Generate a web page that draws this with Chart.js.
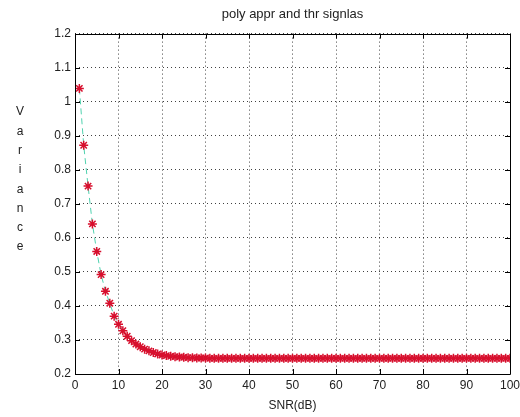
<!DOCTYPE html>
<html>
<head>
<meta charset="utf-8">
<script src="https://cdn.jsdelivr.net/npm/chart.js@4"></script>
<style>
    html, body { margin: 0; padding: 0; background: #fff; }
    #wrap { width: 520px; height: 417px; }
</style>
</head>
<body>
<div id="wrap"><canvas id="myChart" width="520" height="417"></canvas></div>
<script>
// SNR values (dB) on the x axis
const snr = [
    1, 2, 3, 4, 5, 6, 7, 8, 9, 10,
    11, 12, 13, 14, 15, 16, 17, 18, 19, 20,
    21, 22, 23, 24, 25, 26, 27, 28, 29, 30,
    31, 32, 33, 34, 35, 36, 37, 38, 39, 40,
    41, 42, 43, 44, 45, 46, 47, 48, 49, 50,
    51, 52, 53, 54, 55, 56, 57, 58, 59, 60,
    61, 62, 63, 64, 65, 66, 67, 68, 69, 70,
    71, 72, 73, 74, 75, 76, 77, 78, 79, 80,
    81, 82, 83, 84, 85, 86, 87, 88, 89, 90,
    91, 92, 93, 94, 95, 96, 97, 98, 99, 100
];

// variance
const variance = [
    1.039, 0.872, 0.752, 0.641, 0.560, 0.492, 0.443, 0.408, 0.370, 0.346,
    0.327, 0.311, 0.298, 0.288, 0.280, 0.273, 0.268, 0.263, 0.259, 0.256,
    0.254, 0.252, 0.251, 0.250, 0.249, 0.248, 0.248, 0.247, 0.247, 0.247,
    0.246, 0.246, 0.246, 0.246, 0.246, 0.246, 0.246, 0.246, 0.246, 0.246,
    0.246, 0.246, 0.246, 0.246, 0.246, 0.246, 0.246, 0.246, 0.246, 0.246,
    0.246, 0.246, 0.246, 0.246, 0.246, 0.246, 0.246, 0.246, 0.246, 0.246,
    0.246, 0.246, 0.246, 0.246, 0.246, 0.246, 0.246, 0.246, 0.246, 0.246,
    0.246, 0.246, 0.246, 0.246, 0.246, 0.246, 0.246, 0.246, 0.246, 0.246,
    0.246, 0.246, 0.246, 0.246, 0.246, 0.246, 0.246, 0.246, 0.246, 0.246,
    0.246, 0.246, 0.246, 0.246, 0.246, 0.246, 0.246, 0.246, 0.246, 0.246
];

const xTicks = [0, 10, 20, 30, 40, 50, 60, 70, 80, 90, 100];
const yTicks = [0.2, 0.3, 0.4, 0.5, 0.6, 0.7, 0.8, 0.9, 1, 1.1, 1.2];
const yTickLabels = ["0.2", "0.3", "0.4", "0.5", "0.6", "0.7", "0.8", "0.9", "1", "1.1", "1.2"];

const titleText = "poly appr and thr signlas";
const xTitle = "SNR(dB)";
const yTitle = "Variance";

const FONT = "'Liberation Sans', Arial, sans-serif";

// MATLAB style box with inward ticks + stacked y label
const matlabBox = {
    id: "matlabBox",
    afterDraw(chart) {
        const {ctx, chartArea: a, scales: {x, y}} = chart;
        ctx.save();
        ctx.strokeStyle = "#000";
        ctx.lineWidth = 1;
        ctx.beginPath();
        ctx.rect(Math.round(a.left) + 0.5, Math.round(a.top) + 0.5,
            Math.round(a.right - a.left), Math.round(a.bottom - a.top));
        ctx.stroke();

        const len = 5;
        ctx.beginPath();
        for (let t of xTicks) {
            let px = Math.round(x.getPixelForValue(t)) + 0.5;
            ctx.moveTo(px, a.bottom); ctx.lineTo(px, a.bottom - len);
            ctx.moveTo(px, a.top); ctx.lineTo(px, a.top + len);
        }
        for (let t of yTicks) {
            let py = Math.round(y.getPixelForValue(t)) + 0.5;
            ctx.moveTo(a.left, py); ctx.lineTo(a.left + len, py);
            ctx.moveTo(a.right, py); ctx.lineTo(a.right - len, py);
        }
        ctx.stroke();

        // y label, one letter per line
        ctx.fillStyle = "#222";
        ctx.font = "12px " + FONT;
        ctx.textAlign = "center";
        ctx.textBaseline = "middle";
        let letters = yTitle.split("");
        for (let i = 0; i < letters.length; i++) {
            ctx.fillText(letters[i], 20, 112 + i * 19.3);
        }
        ctx.restore();
    }
};

const ctx = document.getElementById("myChart");

let myChart = new Chart(ctx, {
    type: "line",
    data: {
        datasets: [{
            label: yTitle,
            data: snr.map((s, i) => ({x: s, y: variance[i]})),
            fill: false,
            borderColor: "rgb(80,210,175)",
            borderWidth: 1,
            borderDash: [6, 4],
            tension: 0,
            pointStyle: "star",
            pointRadius: 4.5,
            pointBorderWidth: 1.5,
            pointBorderColor: "rgb(215,15,45)",
            pointBackgroundColor: "rgb(215,15,45)"
        }]
    },
    plugins: [matlabBox],
    options: {
        responsive: false,
        animation: false,
        layout: {
            padding: {left: 0, right: 10, top: 0, bottom: 0}
        },
        plugins: {
            legend: {display: false},
            tooltip: {enabled: false},
            title: {
                display: true,
                text: titleText,
                fullSize: false,
                color: "#222",
                font: {family: FONT, size: 13, weight: "normal"},
                padding: {top: 7, bottom: 11}
            }
        },
        scales: {
            x: {
                type: "linear",
                min: 0,
                max: 100,
                afterBuildTicks: (scale) => { scale.ticks = xTicks.map(v => ({value: v})); },
                afterFit: (scale) => {
                    scale.height = 43;
                    scale.paddingLeft = 0;
                    scale.paddingRight = 0;
                },
                ticks: {
                    color: "#222",
                    padding: 4,
                    maxRotation: 0,
                    font: {family: FONT, size: 12}
                },
                grid: {
                    color: "rgba(0,0,0,0.75)",
                    lineWidth: 1,
                    drawTicks: false
                },
                border: {display: false, dash: [1, 3]},
                title: {
                    display: true,
                    text: xTitle,
                    color: "#222",
                    font: {family: FONT, size: 12},
                    padding: {top: 0, bottom: 4}
                }
            },
            y: {
                type: "linear",
                min: 0.2,
                max: 1.2,
                afterBuildTicks: (scale) => { scale.ticks = yTicks.map(v => ({value: v})); },
                afterFit: (scale) => { scale.width = 75; },
                ticks: {
                    color: "#222",
                    padding: 4,
                    font: {family: FONT, size: 12},
                    callback: (value, index) => yTickLabels[index]
                },
                grid: {
                    color: "rgba(0,0,0,0.75)",
                    lineWidth: 1,
                    drawTicks: false
                },
                border: {display: false, dash: [1, 3]}
            }
        }
    }
});
</script>
</body>
</html>
